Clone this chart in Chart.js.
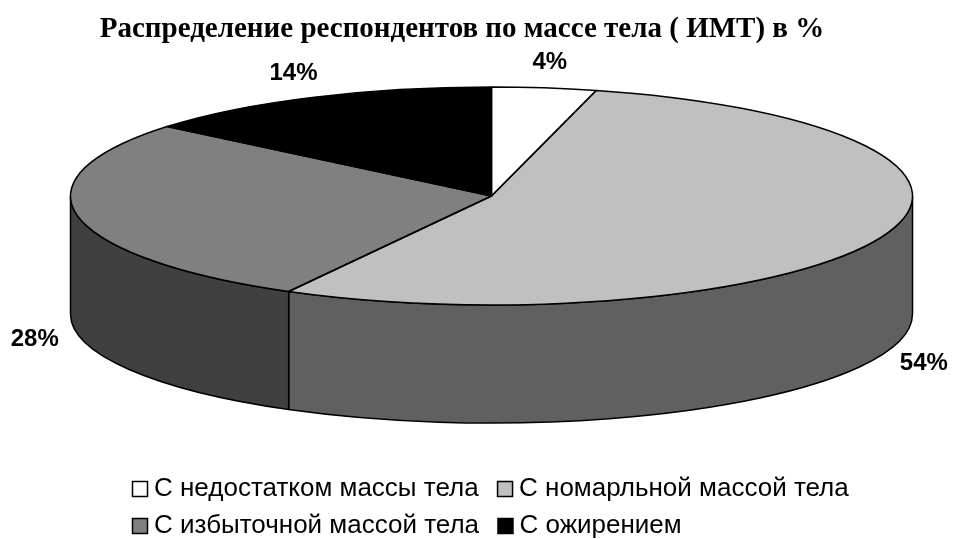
<!DOCTYPE html>
<html><head><meta charset="utf-8">
<script src="https://cdn.jsdelivr.net/npm/chart.js@4"></script>
<style>html,body{margin:0;padding:0;background:#fff;} canvas{display:block;}</style>
</head><body>
<canvas id="c" width="953" height="539"></canvas>
<script>
// ---- data ----
const categories = ['С недостатком массы тела', 'С номарльной массой тела', 'С избыточной массой тела', 'С ожирением'];
const values = [4, 54, 28, 14];
const titleText = 'Распределение респондентов по массе тела ( ИМТ) в %';

// ---- styles ----
const topColors = ['#ffffff', '#c0c0c0', '#808080', '#000000'];
const sideColors = ['#c0c0c0', '#606060', '#404040', '#000000'];
const GEO = {cx: 491.5, cy: 196, rx: 421, ry: 109, depth: 118, labelRx: 465, labelRy: 135};

Chart.defaults.font.family = '"Liberation Sans", Arial, sans-serif';

const pie3d = {
  id: 'pie3d',
  beforeDatasetDraw(chart, args) {
    const ctx = chart.ctx;
    const arcs = args.meta.data;
    ctx.save();
    ctx.lineWidth = 1.5; ctx.strokeStyle = '#000'; ctx.lineJoin = 'round';
    arcs.forEach((arc, i) => {
      const s = arc.startAngle, e = arc.endAngle;
      for (const k of [-2 * Math.PI, 0, 2 * Math.PI]) {
        const lo = Math.max(s, k), hi = Math.min(e, k + Math.PI);
        if (hi > lo) {
          ctx.beginPath();
          ctx.ellipse(GEO.cx, GEO.cy, GEO.rx, GEO.ry, 0, lo, hi, false);
          ctx.ellipse(GEO.cx, GEO.cy + GEO.depth, GEO.rx, GEO.ry, 0, hi, lo, true);
          ctx.closePath();
          ctx.fillStyle = sideColors[i];
          ctx.fill(); ctx.stroke();
        }
      }
    });
    ctx.restore();
    const a0 = arcs[0];
    ctx.save();
    ctx.translate(GEO.cx, GEO.cy);
    ctx.scale(GEO.rx / a0.outerRadius, GEO.ry / a0.outerRadius);
    ctx.translate(-a0.x, -a0.y);
  },
  afterDatasetDraw(chart, args) {
    const ctx = chart.ctx;
    ctx.restore();
    const arcs = args.meta.data;
    ctx.save();
    ctx.lineWidth = 1.5; ctx.strokeStyle = '#000'; ctx.lineJoin = 'round';
    arcs.forEach((arc) => {
      ctx.beginPath();
      ctx.moveTo(GEO.cx, GEO.cy);
      ctx.ellipse(GEO.cx, GEO.cy, GEO.rx, GEO.ry, 0, arc.startAngle, arc.endAngle, false);
      ctx.closePath();
      ctx.stroke();
    });
    ctx.fillStyle = '#000';
    ctx.font = 'bold 24px "Liberation Sans", Arial, sans-serif';
    ctx.textAlign = 'center'; ctx.textBaseline = 'middle';
    arcs.forEach((arc, i) => {
      const m = (arc.startAngle + arc.endAngle) / 2;
      const sn = Math.sin(m);
      const x = GEO.cx + GEO.labelRx * Math.cos(m);
      const y = GEO.cy + GEO.labelRy * sn + (sn > 0 ? GEO.depth : 0);
      ctx.fillText(values[i] + '%', x, y);
    });
    ctx.restore();
  },
  afterDraw(chart) {
    const ctx = chart.ctx;
    ctx.save();
    ctx.fillStyle = '#000';
    ctx.font = 'bold 29px "Liberation Serif", "Times New Roman", serif';
    ctx.textAlign = 'center'; ctx.textBaseline = 'alphabetic';
    ctx.fillText(titleText, 462, 37);
    ctx.restore();
  }
};

new Chart(document.getElementById('c'), {
  type: 'pie',
  data: {
    labels: categories,
    datasets: [{data: values, backgroundColor: topColors, borderWidth: 0, clip: false}]
  },
  options: {
    responsive: false, animation: false, events: [],
    layout: {padding: {left: 128, right: 0, top: 60, bottom: -10}},
    plugins: {
      title: {display: false},
      tooltip: {enabled: false},
      legend: {
        position: 'bottom', align: 'start',
        labels: {
          usePointStyle: true, pointStyle: 'rect', boxWidth: 2, boxHeight: 15, padding: 11,
          color: '#000', font: {family: '"Liberation Sans", Arial, sans-serif', size: 26},
          generateLabels(chart) {
            const ds = chart.data.datasets[0];
            return chart.data.labels.map((l, i) => ({
              text: l + '\u00a0\u00a0', fillStyle: ds.backgroundColor[i], strokeStyle: '#000', lineWidth: 1.5,
              pointStyle: 'rect', hidden: false, index: i, fontColor: '#000'
            }));
          }
        }
      }
    }
  },
  plugins: [pie3d]
});
</script>
</body></html>
